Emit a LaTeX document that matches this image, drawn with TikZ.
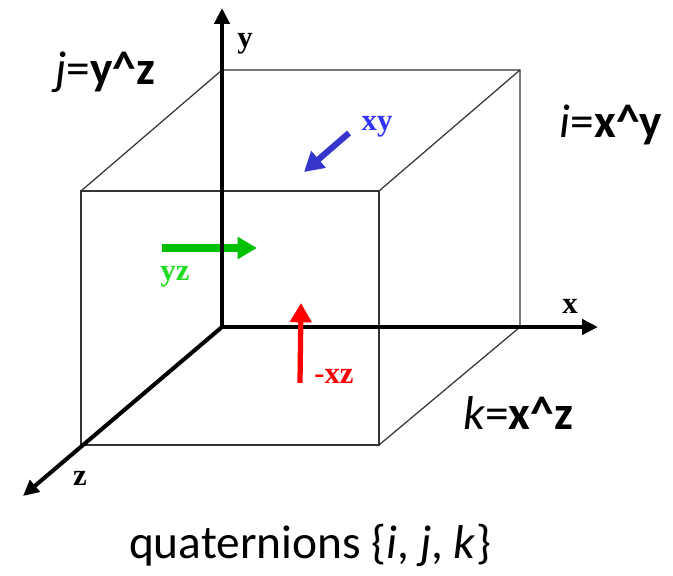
\documentclass[tikz,border=0pt]{standalone}
\usepackage{fontspec}
\setmainfont{Carlito}
\newfontfamily\timesfont{Liberation Serif}
\usetikzlibrary{positioning, arrows.meta}
\definecolor{mBlue}{HTML}{3535CC}
\definecolor{mBlueText}{HTML}{3333FF}
\definecolor{mGreen}{HTML}{00C000}
\definecolor{mGreenText}{HTML}{22DD22}
\definecolor{mRed}{HTML}{FF0000}

\begin{document}
\begin{tikzpicture}[
  x=0.02cm, y=0.02cm,
  cubeline/.style={
    draw=black!80,
    line width=0.7pt
  },
  axis/.style={
    line width=2.3pt,
    -{Triangle[length=9pt,width=8.5pt]}
  },
  bivec/.style={
    line width=3.5pt,
    -{Triangle[length=11pt,width=12pt]}
  },
  axlabel/.style={
    inner sep=0pt,
    font=\timesfont\bfseries\fontsize{17.5}{20}\selectfont
  },
  quatlabel/.style={
    inner sep=0pt,
    font=\fontsize{27}{32}\selectfont
  },
  caption/.style={
    inner sep=0pt,
    font=\fontsize{27}{32}\selectfont
  }
]
\useasboundingbox (0,0) rectangle (673,575);

% axes and cube corners
\coordinate (o) at (222,248);
\coordinate (xtip) at (598,248);
\coordinate (ytip) at (222,567);
\coordinate (ztip) at (23,79);
\coordinate (b1) at (222,505);
\coordinate (b2) at (520,505);
\coordinate (b3) at (520,248);
\coordinate (f1) at (81,384);
\coordinate (f2) at (379,384);
\coordinate (f3) at (379,130);
\coordinate (f4) at (81,130);

% cube
\draw[cubeline] (f4) -- (f1) -- (f2) -- (f3) -- cycle;
\draw[cubeline] (f1) -- (b1) -- (b2) -- (b3);
\draw[cubeline] (f2) -- (b2);
\draw[cubeline] (f3) -- (b3);

% yz
\coordinate (yzS) at (162,327);
\coordinate (yzE) at (257,327);
\draw[bivec, mGreen, line width=4pt] (yzS) -- (yzE);
\node[axlabel, text=mGreenText] (yz) at (175,298) {yz};

% axes
\draw[axis] (o) -- (xtip);
\draw[axis] (o) -- (ytip);
\draw[axis] (o) -- (ztip);
\node[axlabel] (xl) at (570,269) {x};
\node[axlabel] (yl) at (245,531) {y};
\node[axlabel] (zl) at (80,97) {z};

% xy
\coordinate (xyS) at (349,442);
\coordinate (xyE) at (304,403);
\draw[bivec, mBlue] (xyS) -- (xyE);
\node[axlabel, text=mBlueText] (xy) at (377,448) {xy};

% -xz
\coordinate (xzS) at (300,192);
\coordinate (xzE) at (301,272);
\draw[bivec, mRed, line width=3pt] (xzS) -- (xzE);
\node[axlabel, text=mRed] (xz) at (334,199) {-xz};

\node[quatlabel] (j) at (105,503) {\textit{j}=\textbf{y\textasciicircum z}};
\node[quatlabel] (i) at (611,450) {\textit{i}=\textbf{x\textasciicircum y}};
\node[quatlabel] (k) at (518,162) {\textit{k}=\textbf{x\textasciicircum z}};

\node[caption] (cap) at (310,30) {quaternions \{\textit{i}, \textit{j}, \textit{k}\}};

\end{tikzpicture}
\end{document}
